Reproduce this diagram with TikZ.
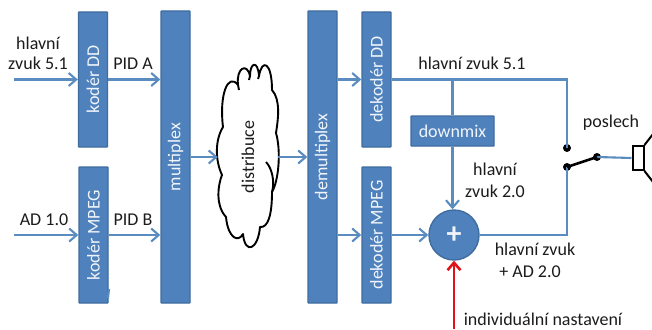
\documentclass[tikz,border=0pt]{standalone}
\usepackage{fontspec}
\setmainfont{Carlito}
\usetikzlibrary{arrows.meta}
\definecolor{boxfill}{HTML}{4F81BD}
\definecolor{boxedge}{HTML}{3F6D9F}
\definecolor{wire}{HTML}{5A8CC0}
\definecolor{redwire}{HTML}{E0121A}
\definecolor{inktext}{HTML}{1C1C1C}
\tikzset{
  blockbox/.style={draw=boxedge,fill=boxfill,line width=1.4pt,inner sep=0pt,rounded corners=0.5pt,text=white!92!boxfill,font=\fontsize{18}{20}\selectfont},
  vbox/.style={blockbox,rotate=90},
  wireline/.style={draw=wire,line width=2.1pt},
  arrowline/.style={wireline,-{Straight Barb[length=7.5pt,width=13pt,line width=2.1pt]}},
  redarrow/.style={draw=redwire,line width=2.6pt,-{Straight Barb[length=7.5pt,width=13pt,line width=2.6pt]}},
  lbl/.style={anchor=base,inner sep=0pt,text=inktext,font=\fontsize{18}{20}\selectfont},
  dotnode/.style={circle,fill=black,inner sep=0pt,minimum size=8pt},
}
\begin{document}
\begin{tikzpicture}[x=1pt,y=-1pt]
\useasboundingbox[fill=white] (0,0) rectangle (652,329);
% blocks
\node[vbox,minimum width=135pt,minimum height=29pt] (kdd) at (93,79.5) {kodér DD};
\node[vbox,minimum width=136pt,minimum height=29pt] (kmp) at (93.5,235) {kodér MPEG};
\node[vbox,minimum width=292pt,minimum height=29pt] (mux) at (175.5,157) {multiplex};
\node[vbox,minimum width=292pt,minimum height=29pt] (dem) at (322.5,157) {demultiplex};
\node[vbox,minimum width=135pt,minimum height=29pt] (ddd) at (376.5,79.5) {dekodér DD};
\node[vbox,minimum width=136pt,minimum height=29pt] (dmp) at (376.5,235) {dekodér MPEG};
\node[blockbox,minimum width=83pt,minimum height=30pt] (dmx) at (452.5,131) {downmix};
\node[blockbox,circle,minimum size=50pt,font=\fontsize{30}{30}\bfseries\selectfont] (sum) at (454,235) {+};
% cloud
\node[inner sep=0pt,minimum width=60pt,minimum height=190pt] (cloud) at (248,157) {};
\draw[black,line width=1.9pt,fill=white,line join=round]
  (238,85) .. controls (236,68) and (247,62) .. (250,76)
  .. controls (250,62) and (258,60) .. (259,76)
  .. controls (262,58) and (272,62) .. (272,90)
  .. controls (281,100) and (278,120) .. (276,133)
  .. controls (281,150) and (279,180) .. (272,192)
  .. controls (272,215) and (268,228) .. (260,227)
  .. controls (258,250) and (245,255) .. (243,234)
  .. controls (238,243) and (228,238) .. (226,217)
  .. controls (215,205) and (218,185) .. (222,175)
  .. controls (215,160) and (215,140) .. (223,127)
  .. controls (219,95) and (228,72) .. (238,85) -- cycle;
\draw[black,line width=1.9pt] (238,85) -- (239,90) (250,76) -- (249,80) (259,76) -- (258,79)
  (272,192) .. controls (275,182) and (272,168) .. (266,162);
\node[rotate=90,inner sep=0pt,text=inktext,font=\fontsize{18}{20}\selectfont] at (cloud.center) {distribuce};
% inputs
\coordinate (in1) at (14,79.5);
\coordinate (in2) at (14,235);
\draw[arrowline] (in1) -- (kdd.north);
\draw[arrowline] (in2) -- (kmp.north);
\draw[arrowline] (kdd.south) -- (kdd.south -| mux.north);
\draw[arrowline] (kmp.south) -- (kmp.south -| mux.north);
\draw[wireline] (109,289) -- (108,298);
\draw[arrowline] (mux.south) -- (cloud.west);
\draw[arrowline] (cloud.east) -- (dem.north);
\draw[arrowline] (dem.south |- ddd.center) -- (ddd.north);
\draw[arrowline] (dem.south |- dmp.center) -- (dmp.north);
\draw[arrowline] (dmp.south) -- (sum.west);
% switch and speaker
\node[dotnode] (sa) at (567,148) {};
\node[dotnode] (sb) at (567,167) {};
\node[dotnode] (sc) at (597,157) {};
\node[draw=black,line width=2pt,fill=white,inner sep=0pt,minimum width=11pt,minimum height=24pt] (spk) at (638,158) {};
\draw[black,line width=2pt] (spk.north east) -- (653,134);
\draw[black,line width=2pt] (spk.south east) -- (653,182);
\draw[wireline] (ddd.south) -| (sa.center);
\draw[wireline] (dmx.north) -- (dmx.north |- ddd.south);
\draw[arrowline] (dmx.south) -- (dmx.south |- sum.north);
\draw[wireline] (sum.east) -| (sb.center);
\draw[wireline] (sc.center) -- (spk.west);
\draw[black,line width=2.6pt] (sb.center) -- (sc.center);
\coordinate (ind) at (454,329);
\draw[redarrow] (ind) -- (sum.south);
% labels
\node[lbl] at (38,49) {hlavní};
\node[lbl] at (38,69) {zvuk 5.1};
\node[lbl] at (133,69) {PID A};
\node[lbl] at (44,225) {AD 1.0};
\node[lbl] at (133,225) {PID B};
\node[lbl] at (472,69) {hlavní zvuk 5.1};
\node[lbl] at (611,127) {poslech};
\node[lbl] at (495,175) {hlavní};
\node[lbl] at (495,197) {zvuk 2.0};
\node[lbl] at (535,255) {hlavní zvuk};
\node[lbl] at (530,277) {+ AD 2.0};
\node[lbl] at (543,325.5) {individuální nastavení};
\end{tikzpicture}
\end{document}
